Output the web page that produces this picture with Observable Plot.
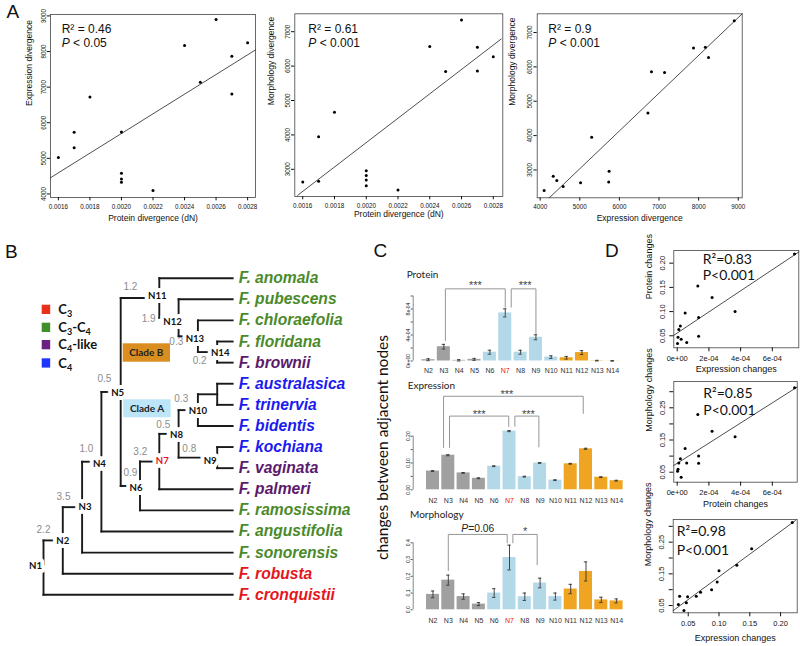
<!DOCTYPE html>
<html><head><meta charset="utf-8">
<script src="https://cdn.jsdelivr.net/npm/d3@7"></script>
<script src="https://cdn.jsdelivr.net/npm/@observablehq/plot@0.6"></script>
<style>
body{margin:0;background:#fff;}
#root{position:relative;width:800px;height:646px;overflow:hidden;background:#fff;}
.p{position:absolute;}
</style></head><body><div id="root"></div>
<script>
// ================= DATA =================
// Panel A: pairwise divergences (15 species pairs)
const dN        = [0.0016,0.0017,0.0017,0.0018,0.0020,0.0020,0.0020,0.0020,0.0022,0.0024,0.0025,0.0026,0.0027,0.0027,0.0028];
const exprDiv   = [5020,5300,5730,6720,5740,4580,4420,4330,4100,8170,7140,8900,7870,6810,8250];
const morphDiv  = [2630,3950,2650,4660,2960,2520,2690,2820,2400,6570,5840,7340,6550,5860,6270];
const fitProtExpr  = {x:[0.00155,0.00285], y:[4455,8045]};
const fitProtMorph = {x:[0.001568,0.00285], y:[2246,6788]};
const fitExprMorph = {x:[4227,9100], y:[2185,7545]};
const dNTicks = [0.0016,0.0018,0.0020,0.0022,0.0024,0.0026,0.0028];
const exprTicks = [4000,5000,6000,7000,8000,9000];
const morphTicks = [3000,4000,5000,6000,7000];

// Panel B: tree
const leaves = ["F. anomala","F. pubescens","F. chloraefolia","F. floridana","F. brownii","F. australasica","F. trinervia","F. bidentis","F. kochiana","F. vaginata","F. palmeri","F. ramosissima","F. angustifolia","F. sonorensis","F. robusta","F. cronquistii"];
const leafType = ["C3-C4","C3-C4","C3-C4","C3-C4","C4-like","C4","C4","C4","C4","C4-like","C4-like","C3-C4","C3-C4","C3-C4","C3","C3"];
const leafParent = ["N11","N12","N13","N14","N14","NA","NA","N10","N9","N9","N7","N6","N4","N3","N2","N1"];
const innerNodes  = ["N1","N2","N3","N4","N5","N6","N7","N8","N9","N10","NA","N11","N12","N13","N14"];
const innerParent = [null,"N1","N2","N3","N4","N5","N6","N7","N8","N8","N10","N5","N11","N12","N13"];
const innerRank   = [0,1,2,3,4,5,6,7,9,8,9,6,7,8,9];
const leafRank = 9.8;
const branchChild = ["N2","N3","N4","N5","N11","N6","N7","N8","N10","N9","N12","N13","N14"];
const branchValue = ["2.2","3.5","1.0","0.5","1.2","0.9","3.2","0.5","0.3","0.8","1.9","0.3","0.2"];
const legendTypes = ["C3","C3-C4","C4-like","C4"];

// Panel C / D: changes between adjacent nodes
const nodes = ["N2","N3","N4","N5","N6","N7","N8","N9","N10","N11","N12","N13","N14"];
const nodeGroup = ["backbone","backbone","backbone","backbone","cladeA","cladeA","cladeA","cladeA","cladeA","cladeB","cladeB","cladeB","cladeB"];
const proteinChg = [0.20e-4,2.2e-4,0.10e-4,0.25e-4,1.35e-4,7.4e-4,1.35e-4,3.65e-4,0.6e-4,0.5e-4,1.3e-4,0.05e-4,0.02e-4];
const proteinErr = [0.15e-4,0.36e-4,0.1e-4,0.15e-4,0.3e-4,0.62e-4,0.3e-4,0.38e-4,0.2e-4,0.2e-4,0.3e-4,0.05e-4,0.05e-4];
const exprChg = [0.070,0.129,0.063,0.043,0.088,0.219,0.049,0.100,0.036,0.097,0.153,0.047,0.034];
const exprErr = [0.0015,0.002,0.0015,0.0015,0.0015,0.002,0.0015,0.0015,0.0015,0.0015,0.002,0.0015,0.0015];
const morphChg = [0.092,0.177,0.079,0.034,0.100,0.312,0.078,0.160,0.079,0.124,0.229,0.059,0.053];
const morphErr = [0.020,0.030,0.016,0.009,0.026,0.074,0.022,0.029,0.021,0.028,0.057,0.016,0.012];
const proteinBrackets = [
  {a:"N3", b:"N7", top:1.11e-3, endA:3.15e-4, endB:8.28e-4, label:"***"},
  {a:"N7", b:"N9", top:1.11e-3, endA:8.28e-4, endB:4.23e-4, label:"***"}];
const exprBrackets = [
  {a:"N3", b:"N12", top:0.349, endA:0.158, endB:0.285, label:"***"},
  {a:"N3", b:"N7", top:0.275, endA:0.158, endB:0.237, label:"***"},
  {a:"N7", b:"N9", top:0.275, endA:0.237, endB:0.160, label:"***"}];
const morphBrackets = [
  {a:"N3", b:"N7", top:0.45, endA:0.235, endB:0.40, italic:"P", label:"=0.06"},
  {a:"N7", b:"N9", top:0.45, endA:0.40, endB:0.269, label:"*"}];
const fitD1 = {x:[-0.215e-4,7.67e-4], y:[0.051,0.223]};
const fitD2 = {x:[-0.215e-4,7.57e-4], y:[0.071,0.3145]};
const fitD3 = {x:[0.0256,0.2242], y:[0.034,0.3185]};

// ================= STYLE =================
const SANS = "'Liberation Sans', Arial, sans-serif";
const LATO = "Lato, 'Open Sans', sans-serif";
const typeColor = {"C3":"#E4161B","C3-C4":"#4A8A2A","C4-like":"#5C1A6C","C4":"#1B1BEF"};
const legendColor = {"C3":"#E8301A","C3-C4":"#3F8F2B","C4-like":"#6B2180","C4":"#2036FF"};
const groupColor = {backbone:"#A0A0A0", cladeA:"#B3D9E9", cladeB:"#EFA522"};
const RED = "#E8161B";

const root = document.getElementById("root");
function place(svg, left, top, w, h){
  const d = document.createElement("div"); d.className = "p";
  d.style.left = left+"px"; d.style.top = top+"px"; d.style.width = w+"px"; d.style.height = h+"px";
  d.appendChild(svg); root.appendChild(d);
}
const baseStyle = f => ({background:"transparent", overflow:"visible", fontFamily:f, color:"#111"});

// ================= PANEL A =================
function scatter(c){
  const rows = c.xs.map((x,i)=>({x, y:c.ys[i]}));
  const fit = c.fit.x.map((x,i)=>({x, y:c.fit.y[i]}));
  return Plot.plot({
    width:c.w, height:c.h, marginLeft:c.ml, marginRight:c.mr, marginTop:c.mt, marginBottom:c.mb,
    style: baseStyle(SANS),
    x:{domain:c.xDomain}, y:{domain:c.yDomain},
    marks:[
      Plot.frame({stroke:"#444", strokeWidth:0.8}),
      Plot.line(fit, {x:"x", y:"y", stroke:"#222", strokeWidth:0.8}),
      Plot.dot(rows, {x:"x", y:"y", r:c.r ?? 1.5, fill:"#000"}),
      Plot.axisX({ticks:c.xTicks, tickFormat:c.xFmt, tickSize:c.ts, tickPadding:c.xPad, fontSize:c.tf, label:null}),
      Plot.axisY({ticks:c.yTicks, tickFormat:c.yFmt, tickSize:c.ts, tickPadding:c.yPad, tickRotate:-90, fontSize:c.tf, label:null}),
      Plot.text([c.xLabel], {text:d=>d, frameAnchor:"bottom", dy:c.xTitleDy, fontSize:c.lf}),
      Plot.text([c.yLabel], {text:d=>d, frameAnchor:"left", dx:c.yTitleDx, rotate:-90, fontSize:c.lf})
    ]
  });
}
const fmt4 = d3.format(".4f"), fmtInt = d3.format("d");
const aCommon = {ts:3.3, xPad:3.4, yPad:1.7, tf:6.3, lf:8.5, h:232};
place(scatter({...aCommon, xs:dN, ys:exprDiv, fit:fitProtExpr, w:265, ml:50, mr:10, mt:14, mb:35,
  xDomain:[0.00155,0.00285], yDomain:[3900,9040], xTicks:dNTicks, yTicks:exprTicks, xFmt:fmt4, yFmt:fmtInt,
  xLabel:"Protein divergence (dN)", yLabel:"Expression divergence", xTitleDy:23, yTitleDx:-21.7}), 0, 0, 265, 232);
place(scatter({...aCommon, xs:dN, ys:morphDiv, fit:fitProtMorph, w:265, ml:39.3, mr:17.7, mt:13.3, mb:36,
  xDomain:[0.00155,0.00286], yDomain:[2210,7520], xTicks:dNTicks, yTicks:morphTicks, xFmt:fmt4, yFmt:fmtInt,
  xLabel:"Protein divergence (dN)", yLabel:"Morphology divergence", xTitleDy:20, yTitleDx:-23.3}), 255, 0, 265, 232);
place(scatter({...aCommon, xs:exprDiv, ys:morphDiv, fit:fitExprMorph, w:270, ml:36.7, mr:28.3, mt:13.3, mb:34.7,
  xDomain:[3925,9100], yDomain:[2190,7545], xTicks:exprTicks, yTicks:morphTicks, xFmt:fmtInt, yFmt:fmtInt,
  xLabel:"Expression divergence", yLabel:"Morphology divergence", xTitleDy:23.5, yTitleDx:-25}), 500, 0, 270, 232);

// ================= PANEL B (tree) =================
const rank = new Map(innerNodes.map((n,i)=>[n, innerRank[i]]));
leaves.forEach(l=>rank.set(l, leafRank));
const parentOf = new Map([...leaves.map((l,i)=>[l, leafParent[i]]), ...innerNodes.map((n,i)=>[n, innerParent[i]])]);
const childrenOf = d3.group([...parentOf.keys()].filter(k=>parentOf.get(k)), k=>parentOf.get(k));
const yOf = new Map(leaves.map((l,i)=>[l,i]));
function getY(n){ if (yOf.has(n)) return yOf.get(n); const c = childrenOf.get(n).map(getY); const v=(d3.min(c)+d3.max(c))/2; yOf.set(n,v); return v; }
innerNodes.forEach(getY);
const hEdges = [...parentOf.entries()].filter(([n,p])=>p).map(([n,p])=>({x1:rank.get(p), x2:rank.get(n), y:yOf.get(n)}));
const vEdges = innerNodes.map(n=>{ const c = childrenOf.get(n).map(k=>yOf.get(k)); return {x:rank.get(n), y1:d3.min(c), y2:d3.max(c)}; });
const nodeNudge = {N1:[-8,-2],N2:[0,0],N3:[3,0],N4:[-2,2],N5:[-3,1],N6:[-4,2],N7:[3,-1],N8:[-2,1],N9:[-7,3],N10:[0,1],N11:[-2,-2],N12:[-6,4],N13:[-3,3],N14:[3,1]};
const branchNudge = {N2:[0,-10.6],N3:[0.7,-10],N4:[4.3,-13.4],N5:[3,-13.5],N11:[9.7,-11],N6:[9.7,-13.3],N7:[0.3,-9.7],N8:[4,-9.5],N10:[2.7,-11],N9:[10.7,-9.2],N12:[-10.7,1.5],N13:[-2.3,5.7],N14:[1.7,8.7]};
const leafRows = leaves.map((l,i)=>({name:l, type:leafType[i]}));
const treeMarks = [
  Plot.link(hEdges, {x1:"x1", x2:"x2", y1:"y", y2:"y", stroke:"#1a1a1a", strokeWidth:1.9, strokeLinecap:"square"}),
  Plot.link(vEdges, {x1:"x", x2:"x", y1:"y1", y2:"y2", stroke:"#1a1a1a", strokeWidth:1.9, strokeLinecap:"square"}),
  Plot.text(leafRows, {x:()=>leafRank, y:d=>yOf.get(d.name), text:"name", dx:6, textAnchor:"start",
    fill:d=>typeColor[d.type], fontSize:15.6, fontWeight:"bold", fontStyle:"italic", fontFamily:SANS})
];
innerNodes.filter(n=>n!=="NA").forEach(n=>{
  const [dx,dy] = nodeNudge[n];
  treeMarks.push(Plot.text([n], {x:d=>rank.get(d), y:d=>yOf.get(d), text:d=>d, dx, dy,
    fill: n==="N7" ? RED : "#111", stroke:"white", strokeWidth:8, paintOrder:"stroke", strokeLinejoin:"round",
    fontSize:9.6, fontWeight:"bold", fontFamily:LATO}));
});
branchChild.forEach((c,i)=>{
  const [dx,dy] = branchNudge[c];
  treeMarks.push(Plot.text([c], {x:d=>rank.get(parentOf.get(d)), y:d=>yOf.get(d), text:()=>branchValue[i], dx, dy,
    fill:"#8c8c8c", fontSize:10, fontFamily:SANS}));
});
place(Plot.plot({width:370, height:365, marginLeft:43, marginRight:153.3, marginTop:32.7, marginBottom:15.7,
  style:baseStyle(SANS), x:{domain:[0,9], axis:null}, y:{domain:[0,15], reverse:true, axis:null},
  color:{type:"identity"}, marks:treeMarks}), 0, 245, 370, 365);

// ================= PANEL C (bars) =================
function barPanel(c){
  const rows = nodes.map((n,i)=>({i, node:n, v:c.vals[i], e:c.errs[i], grp:nodeGroup[i]}));
  const idx = n => nodes.indexOf(n);
  const bl = c.brackets.map((b,k)=>({...b, k, ax: idx(b.a)+c.nudges[k][0], bx: idx(b.b)+c.nudges[k][1], ln: c.labelNudges[k]}));
  const pts = bl.flatMap(b=>[{k:b.k,x:b.ax,y:b.endA},{k:b.k,x:b.ax,y:b.top},{k:b.k,x:b.bx,y:b.top},{k:b.k,x:b.bx,y:b.endB}]);
  const plain = bl.filter(b=>!b.italic), ital = bl.filter(b=>b.italic);
  const marks = [
    Plot.ruleX([c.axisIdx], {y1:0, y2:c.yMax, stroke:"#555", strokeWidth:0.7}),
    Plot.axisY({ticks:c.yTicks, tickFormat:d=>c.yLabels.get(d) ?? "", tickSize:2, tickPadding:c.yPad, tickRotate:-90, fontSize:5, label:null, stroke:"#555"}),
    Plot.rect(rows, {x1:d=>d.i-0.425, x2:d=>d.i+0.425, y1:0, y2:"v", fill:d=>groupColor[d.grp]}),
    Plot.ruleX(rows, {x:"i", y1:d=>d.v-d.e, y2:d=>d.v+d.e, stroke:"#333", strokeWidth:0.9}),
    Plot.ruleY(rows, {y:d=>d.v+d.e, x1:d=>d.i-0.11, x2:d=>d.i+0.11, stroke:"#333", strokeWidth:0.9}),
    Plot.ruleY(rows, {y:d=>d.v-d.e, x1:d=>d.i-0.11, x2:d=>d.i+0.11, stroke:"#333", strokeWidth:0.9}),
    Plot.line(pts, {x:"x", y:"y", z:"k", stroke:"#8a8a8a", strokeWidth:0.9}),
    Plot.text(plain, {x:b=>(b.ax+b.bx)/2+b.ln, y:"top", text:"label", dy:c.starDy, fontSize:11, fill:"#444", fontFamily:SANS}),
    Plot.text(ital, {x:b=>(b.ax+b.bx)/2+b.ln, y:"top", text:"italic", dx:-9.6, dy:-5.3, textAnchor:"end", fontStyle:"italic", fontSize:10.3, fill:"#222", fontFamily:SANS}),
    Plot.text(ital, {x:b=>(b.ax+b.bx)/2+b.ln, y:"top", text:"label", dx:-9.6, dy:-5.3, textAnchor:"start", fontSize:10.3, fill:"#222", fontFamily:SANS}),
    Plot.text(rows, {x:"i", text:"node", frameAnchor:"bottom", dy:c.xLabDy, fontSize:7, fill:d=>d.node==="N7"?RED:"#333"})
  ];
  return Plot.plot({width:c.w, height:c.h, marginLeft:c.ml, marginRight:c.mr, marginTop:c.mt, marginBottom:c.mb,
    style:baseStyle(SANS), x:{domain:[c.axisIdx, 12.575], axis:null}, y:{domain:[0,c.yMax], axis:null},
    color:{type:"identity"}, marks});
}
place(barPanel({vals:proteinChg, errs:proteinErr, brackets:proteinBrackets,
  nudges:[[0.1,0],[0.39,0]], labelNudges:[0,0.1], starDy:-3,
  yMax:1e-3, yTicks:[0,2e-4,4e-4,6e-4,8e-4,1e-3], yLabels:new Map([[0,"0e+00"],[4e-4,"4e-04"],[8e-4,"8e-04"]]), yPad:1.4,
  axisIdx:-0.997, w:235, h:100, ml:17.7, mr:9.0, mt:15.5, mb:19.5, xLabDy:12.2}), 395, 280, 235, 100);
place(barPanel({vals:exprChg, errs:exprErr, brackets:exprBrackets,
  nudges:[[-0.31,-0.18],[0.08,-0.05],[0.35,-0.08]], labelNudges:[-0.42,0,0.1], starDy:-1.8,
  yMax:0.2, yTicks:[0,0.05,0.1,0.15,0.2], yLabels:new Map([[0,"0.00"],[0.1,"0.10"],[0.2,"0.20"]]), yPad:0.8,
  axisIdx:-1.294, w:235, h:122, ml:17.7, mr:5.1, mt:52.7, mb:15.7, xLabDy:13.4}), 395, 383, 235, 122);
place(barPanel({vals:morphChg, errs:morphErr, brackets:morphBrackets,
  nudges:[[0,-0.15],[0.22,-0.19]], labelNudges:[0,0], starDy:-3.4,
  yMax:0.4, yTicks:[0,0.1,0.2,0.3,0.4], yLabels:new Map([[0,"0.0"],[0.1,"0.1"],[0.2,"0.2"],[0.3,"0.3"],[0.4,"0.4"]]), yPad:0.8,
  axisIdx:-1.294, w:235, h:125, ml:17.7, mr:5.1, mt:32.3, mb:25.7, xLabDy:13}), 395, 510, 235, 125);

// ================= PANEL D =================
const expFmt = d => d === 0 ? "0e+00" : d.toExponential(0).replace(/e-(\d)$/, "e-0$1");
const f2 = d3.format(".2f");
const dCommon = {ts:4, xPad:3.4, yPad:4.9, tf:7.5, lf:9, r:1.5, w:170, yTitleDx:-25};
place(scatter({...dCommon, xs:proteinChg, ys:exprChg, fit:fitD1, h:140, ml:43.3, mr:1.7, mt:10, mb:32.7,
  xDomain:[-0.215e-4,7.67e-4], yDomain:[0.0252,0.2262], xTicks:[0,2e-4,4e-4,6e-4], yTicks:[0.05,0.10,0.15,0.20],
  xFmt:expFmt, yFmt:f2, xLabel:"Expression changes", yLabel:"Protein changes", xTitleDy:24.4}), 630, 240, 170, 140);
const dMidLab = new Map([[0.05,"0.05"],[0.15,"0.15"],[0.25,"0.25"]]);
place(scatter({...dCommon, xs:proteinChg, ys:morphChg, fit:fitD2, h:135, ml:43.3, mr:3.3, mt:6, mb:28.3,
  xDomain:[-0.215e-4,7.57e-4], yDomain:[0.019,0.3317], xTicks:[0,2e-4,4e-4,6e-4], yTicks:[0.05,0.10,0.15,0.20,0.25,0.30],
  xFmt:expFmt, yFmt:d=>dMidLab.get(d) ?? "", xLabel:"Protein changes", yLabel:"Morphology changes", xTitleDy:25}), 630, 375, 170, 135);
place(scatter({...dCommon, xs:exprChg, ys:morphChg, fit:fitD3, h:141, ml:42.7, mr:3.3, mt:14, mb:33.7,
  xDomain:[0.0256,0.227], yDomain:[0.027,0.3216], xTicks:[0.05,0.10,0.15,0.20], yTicks:[0.05,0.10,0.15,0.20,0.25,0.30],
  xFmt:f2, yFmt:d=>dMidLab.get(d) ?? "", xLabel:"Expression changes", yLabel:"Morphology changes", xTitleDy:27.7}), 630, 505, 170, 141);

// ================= OVERLAY (annotations) =================
const ov = d3.create("svg").attr("width",800).attr("height",646)
  .style("position","absolute").style("left","0px").style("top","0px").style("overflow","visible");
function txt(x, y, parts, o={}){
  const t = ov.append("text").attr("x",x).attr("y",y)
    .attr("font-family", o.family || SANS).attr("font-size", o.size || 12)
    .attr("font-weight", o.weight || "normal").attr("fill", o.fill || "#111");
  if (o.anchor) t.attr("text-anchor", o.anchor);
  if (o.rotate) t.attr("transform", `rotate(${o.rotate},${x},${y})`);
  for (const p of parts){
    if (typeof p === "string") t.append("tspan").text(p);
    else {
      const s = t.append("tspan").text(p.t);
      if (p.italic) s.attr("font-style","italic");
      if (p.sub) s.attr("font-size", p.sub).attr("dy", p.dy);
      if (p.back) s.attr("dy", p.back);
    }
  }
  return t;
}
// panel letters
txt(6.5, 18, ["A"], {size:19}); txt(5, 258.3, ["B"], {size:19});
txt(373.5, 257.3, ["C"], {size:19}); txt(605, 257.3, ["D"], {size:19});
// panel A stats
txt(61.7, 32.7, ["R² = 0.46"]); txt(61.7, 47.3, [{t:"P", italic:true}, " < 0.05"]);
txt(308.3, 32.7, ["R² = 0.61"]); txt(308.3, 47.3, [{t:"P", italic:true}, " < 0.001"]);
txt(548.3, 32.7, ["R² = 0.9"]); txt(548.3, 47.3, [{t:"P", italic:true}, " < 0.001"]);
// panel D stats
const dS = {family:LATO, size:14};
txt(702.7, 264, ["R²=0.83"], dS); txt(702.7, 280, ["P<0.001"], dS);
txt(703.3, 398.3, ["R²=0.85"], dS); txt(703.3, 415, ["P<0.001"], dS);
txt(676.7, 535.7, ["R²=0.98"], dS); txt(676.7, 555, ["P<0.001"], dS);
// panel C titles
const cS = {family:LATO, size:10, fill:"#222"};
txt(406.7, 278.3, ["Protein"], cS); txt(407.7, 388.7, ["Expression"], cS); txt(410, 517.7, ["Morphology"], cS);
txt(388.3, 447.5, ["changes between adjacent nodes"], {family:LATO, size:15.5, anchor:"middle", rotate:-90});
// legend
const legendParts = {
  "C3": ["C", {t:"3", sub:9, dy:3}],
  "C3-C4": ["C", {t:"3", sub:9, dy:3}, {t:"-C", back:-3}, {t:"4", sub:9, dy:3}],
  "C4-like": ["C", {t:"4", sub:9, dy:3}, {t:"-like", back:-3}],
  "C4": ["C", {t:"4", sub:9, dy:3}]
};
const legY = [304.7, 322.7, 340, 358.3];
legendTypes.forEach((k,i)=>{
  ov.append("rect").attr("x",41.7).attr("y",legY[i]).attr("width",8.5).attr("height",9.3).attr("fill",legendColor[k]);
  txt(58.3, legY[i]+9.3, legendParts[k], {family:LATO, size:13, weight:"bold", fill:"#111"});
});
// clade boxes
ov.append("rect").attr("x",122.7).attr("y",343.3).attr("width",47.3).attr("height",18.4).attr("fill","#D98E1F");
txt(146.3, 356, ["Clade B"], {family:LATO, size:10, weight:"bold", anchor:"middle", fill:"#222"});
ov.append("rect").attr("x",123.3).attr("y",399.3).attr("width",47.4).attr("height",18).attr("fill","#BDE5F8");
txt(147, 412, ["Clade A"], {family:LATO, size:10, weight:"bold", anchor:"middle", fill:"#222"});
root.appendChild(ov.node());
</script></body></html>
